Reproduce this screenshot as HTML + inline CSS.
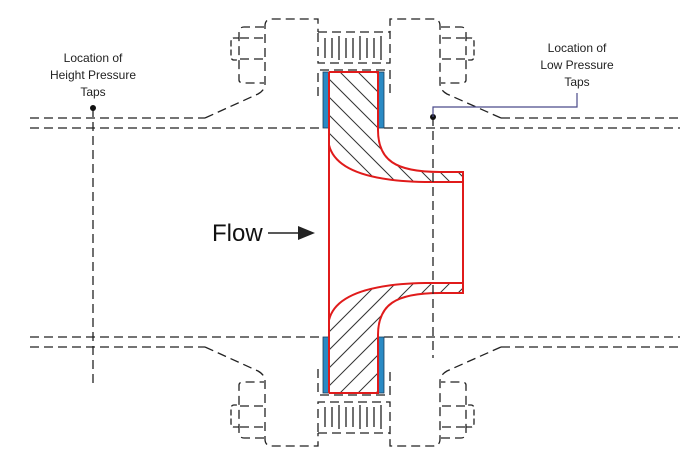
<!DOCTYPE html>
<html><head><meta charset="utf-8"><style>html,body{margin:0;padding:0;background:#fff}svg{display:block}</style></head>
<body>
<svg width="700" height="451" viewBox="0 0 700 451" xmlns="http://www.w3.org/2000/svg">
<defs>
<clipPath id="cp"><path d="M329,72 H378 V130 C378,160 395,172 440,172 H463 V182 H425 C370,181 335,170 329,145 Z"/></clipPath>
<g id="half">
  <g fill="none" stroke="#222" stroke-width="1.3" stroke-dasharray="9,5">
    <path d="M205,118 L258,94 Q265,90 265,84 V26 Q265,19 272,19 H318 V32"/>
    <path d="M501,118 L447,94 Q440,90 440,84 V26 Q440,19 433,19 H390 V32"/>
    <rect x="318" y="32" width="72" height="31"/>
    <path d="M318,96 V70 H390 V96"/>
    <path d="M264,27 H244 Q239,27 239,33 V80 Q239,83 244,83 H264"/>
    <path d="M240,38 H264 M240,59 H264"/>
    <path d="M239,38 H234 Q231,38 231,42 V56 Q231,60 234,60 H239" stroke-dasharray="6,3"/>
    <path d="M441,27 H461 Q466,27 466,33 V80 Q466,83 461,83 H441"/>
    <path d="M465,38 H441 M465,59 H441"/>
    <path d="M466,38 H471 Q474,38 474,42 V56 Q474,60 471,60 H466" stroke-dasharray="6,3"/>
  </g>
  <g stroke="#222" stroke-width="1.3">
    <path d="M325,38 V58 M332,38 V58 M339,36 V60 M346,38 V58 M353,38 V58 M360,36 V60 M367,38 V58 M374,38 V58 M381,36 V60"/>
  </g>
  <g fill="none" stroke="#222" stroke-width="1.3" stroke-dasharray="9,5">
    <path d="M30,118 H205 M501,118 H680"/>
    <path d="M30,128 H323 M384,128 H680"/>
  </g>
  <rect x="323" y="72" width="6" height="56" fill="#2a8ac4" stroke="#1a3d5a" stroke-width="0.8"/>
  <rect x="378" y="72" width="6" height="56" fill="#2a8ac4" stroke="#1a3d5a" stroke-width="0.8"/>
  <g clip-path="url(#cp)" stroke="#333" stroke-width="1">
    <path d="M236,40 L396,200 M254,40 L414,200 M272,40 L432,200 M290,40 L450,200 M308,40 L468,200 M326,40 L486,200 M344,40 L504,200 M362,40 L522,200 M380,40 L540,200 M218,40 L378,200"/>
  </g>
  <path d="M329,72 H378 V130 C378,160 395,172 440,172 H463 V182 H425 C370,181 335,170 329,145" fill="none" stroke="#e01b1b" stroke-width="2"/>
</g>
</defs>
<use href="#half"/>
<use href="#half" transform="matrix(1,0,0,-1,0,465)"/>
<line x1="329" y1="72" x2="329" y2="393" stroke="#e01b1b" stroke-width="2"/>
<line x1="463" y1="172" x2="463" y2="293" stroke="#e01b1b" stroke-width="2"/>
<g fill="none" stroke="#222" stroke-width="1.3" stroke-dasharray="9,5">
  <path d="M93,108 V385"/>
  <path d="M433,117 V358"/>
</g>
<circle cx="93" cy="108" r="3" fill="#111"/>
<circle cx="433" cy="117" r="3" fill="#111"/>
<path d="M433,117 V107 H577 V93" fill="none" stroke="#4a4a8a" stroke-width="1.2"/>
<g font-family="Liberation Sans, sans-serif" font-size="12" fill="#222" text-anchor="middle">
  <text x="93" y="62">Location of</text>
  <text x="93" y="79">Height Pressure</text>
  <text x="93" y="96">Taps</text>
  <text x="577" y="52">Location of</text>
  <text x="577" y="69">Low Pressure</text>
  <text x="577" y="86">Taps</text>
</g>
<text x="212" y="241" font-family="Liberation Sans, sans-serif" font-size="24" fill="#111">Flow</text>
<line x1="268" y1="233" x2="300" y2="233" stroke="#222" stroke-width="1.5"/>
<path d="M298,226 L315,233 L298,240 Z" fill="#222"/>
</svg>
</body></html>
